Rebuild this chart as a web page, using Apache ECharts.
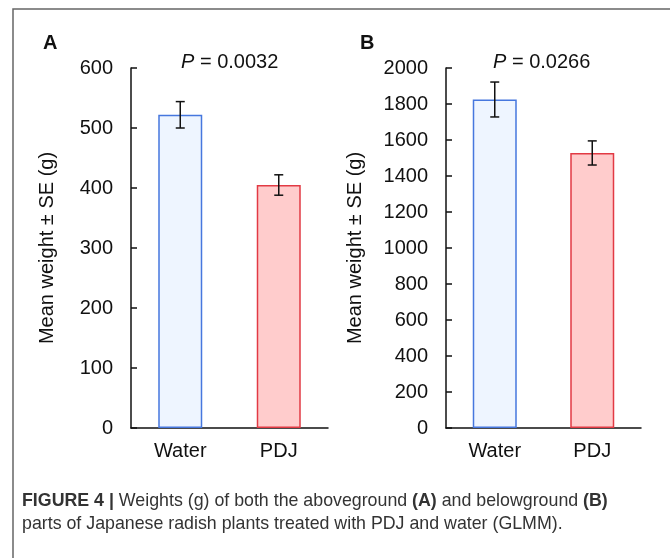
<!DOCTYPE html>
<html>
<head>
<meta charset="utf-8">
<script src="https://cdn.jsdelivr.net/npm/echarts@6/dist/echarts.min.js"></script>
<style>
    html, body { margin: 0; padding: 0; background: #fff; }
    .container { width: 670px; height: 558px; }
</style>
</head>
<body>
<div class="container"></div>
<script>
const categories = ['Water', 'PDJ'];
const meansA = [522, 405];
const seA = [22, 17];
const meansB = [1825, 1528];
const seB = [97, 67];
const pValues = ['0.0032', '0.0266'];

(function(){
    let myChart = echarts.init(document.querySelector('.container'));

    const fills = ['#EEF5FF', '#FFCCCC'];
    const borders = ['#4677DE', '#E23A44'];
    const font = 'Liberation Sans, Arial, sans-serif';

    function errorSeries(idx, means, se) {
        return {
            type: 'custom',
            xAxisIndex: idx,
            yAxisIndex: idx,
            data: means.map((m, i) => [i, m - se[i], m + se[i]]),
            z: 10,
            renderItem: function(params, api) {
                const lo = api.coord([api.value(0), api.value(1)]);
                const hi = api.coord([api.value(0), api.value(2)]);
                const w = 4.5;
                const style = { stroke: '#111', lineWidth: 1.5 };
                return {
                    type: 'group',
                    children: [
                        { type: 'line', shape: { x1: lo[0], y1: lo[1], x2: hi[0], y2: hi[1] }, style: style },
                        { type: 'line', shape: { x1: hi[0] - w, y1: hi[1], x2: hi[0] + w, y2: hi[1] }, style: style },
                        { type: 'line', shape: { x1: lo[0] - w, y1: lo[1], x2: lo[0] + w, y2: lo[1] }, style: style }
                    ]
                };
            }
        };
    }

    function barSeries(idx, means) {
        return {
            type: 'bar',
            xAxisIndex: idx,
            yAxisIndex: idx,
            barWidth: 44,
            data: means.map((v, i) => ({
                value: v,
                itemStyle: { color: fills[i], borderColor: borders[i], borderWidth: 1.5 }
            }))
        };
    }

    function xAxis(idx) {
        return {
            type: 'category',
            gridIndex: idx,
            data: categories,
            axisTick: { show: false },
            axisLine: { lineStyle: { color: '#111', width: 1.5 } },
            axisLabel: { color: '#111', fontSize: 20, fontFamily: font, margin: 13 }
        };
    }

    function yAxis(idx, max, interval, gap) {
        return {
            type: 'value',
            gridIndex: idx,
            min: 0,
            max: max,
            interval: interval,
            name: 'Mean weight ± SE (g)',
            nameLocation: 'middle',
            nameGap: gap,
            nameTextStyle: { color: '#111', fontSize: 20, fontFamily: font },
            axisLine: { show: true, lineStyle: { color: '#111', width: 1.5 } },
            axisTick: { show: true, inside: true, length: 6, lineStyle: { color: '#111', width: 1.5 } },
            axisLabel: { color: '#111', fontSize: 20, fontFamily: font, margin: 18, formatter: v => String(v) },
            splitLine: { show: false }
        };
    }

    const option = {
        animation: false,
        grid: [
            { left: 131, right: 342, top: 68, bottom: 130 },
            { left: 446, right: 29, top: 68, bottom: 130 }
        ],
        xAxis: [xAxis(0), xAxis(1)],
        yAxis: [yAxis(0, 600, 100, 74), yAxis(1, 2000, 200, 81)],
        title: [
            { text: 'A', left: 38, top: 28, textStyle: { fontSize: 20, fontWeight: 'bold', color: '#111', fontFamily: font } },
            { text: 'B', left: 355, top: 28, textStyle: { fontSize: 20, fontWeight: 'bold', color: '#111', fontFamily: font } }
        ],
        graphic: [
            { type: 'polyline', shape: { points: [[13, 558], [13, 9], [670, 9]] }, style: { stroke: '#666', lineWidth: 1.5, fill: null } },
            {
                type: 'text', left: 181, top: 52,
                style: { text: '{i|P} = ' + pValues[0], rich: { i: { fontStyle: 'italic', fontSize: 20, fontFamily: font } }, fontSize: 20, fontFamily: font, fill: '#111' }
            },
            {
                type: 'text', left: 493, top: 52,
                style: { text: '{i|P} = ' + pValues[1], rich: { i: { fontStyle: 'italic', fontSize: 20, fontFamily: font } }, fontSize: 20, fontFamily: font, fill: '#111' }
            },
            {
                type: 'text', left: 22, top: 490,
                style: {
                    text: '{b|FIGURE 4 |} Weights (g) of both the aboveground {b|(A)} and belowground {b|(B)}\nparts of Japanese radish plants treated with PDJ and water (GLMM).',
                    rich: { b: { fontWeight: 'bold', fontSize: 17.8, fontFamily: font, fill: '#333' } },
                    fontSize: 17.8, fontFamily: font, fill: '#333', lineHeight: 23
                }
            }
        ],
        series: [
            barSeries(0, meansA), errorSeries(0, meansA, seA),
            barSeries(1, meansB), errorSeries(1, meansB, seB)
        ]
    };

    myChart.setOption(option);
})();
</script>
</body>
</html>
